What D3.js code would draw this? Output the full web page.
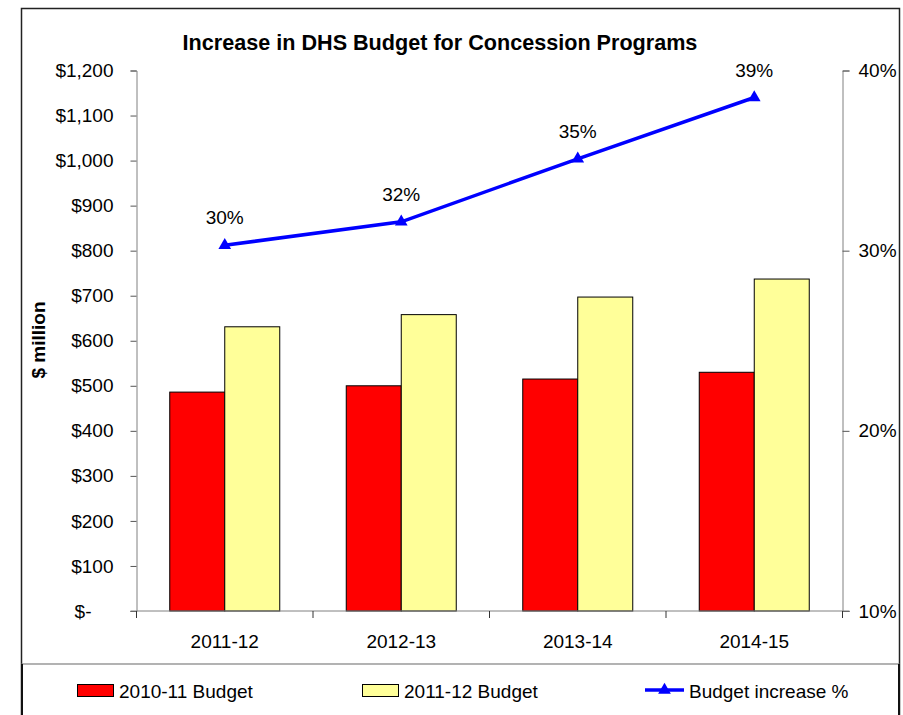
<!DOCTYPE html>
<html>
<head>
<meta charset="utf-8">
<script src="https://cdn.jsdelivr.net/npm/d3@7/dist/d3.min.js"></script>
<style>
  html, body { margin: 0; padding: 0; background: #fff; }
  svg { display: block; font-family: "Liberation Sans", Arial, sans-serif; }
</style>
</head>
<body>
<svg id="chart" width="903" height="715"></svg>
<script>
// ---- data ----
const categories = ["2011-12", "2012-13", "2013-14", "2014-15"];
const budget2010 = [486, 500, 515, 530];
const budget2011 = [631, 658, 697, 737];
const increasePct = [30.3, 31.6, 35.1, 38.5];
const increaseLabels = ["30%", "32%", "35%", "39%"];
const leftTicks = [0, 100, 200, 300, 400, 500, 600, 700, 800, 900, 1000, 1100, 1200];
const rightTicks = [10, 20, 30, 40];
const seriesNames = ["2010-11 Budget", "2011-12 Budget", "Budget increase %"];

(function () {
const svg = d3.select("#chart");
const pL = 136.5, pR = 842.5, pT = 70.5, pB = 611;

const x = d3.scaleBand().domain(categories).range([pL, pR]).padding(0);
const y = d3.scaleLinear().domain([0, 1200]).range([pB, pT]);
const y2 = d3.scaleLinear().domain([10, 40]).range([pB, pT]);

// outer frame
svg.append("rect").attr("x", 21.5).attr("y", 8.5).attr("width", 878).attr("height", 720)
  .attr("fill", "#fff").attr("stroke", "#222").attr("stroke-width", 1.5);

// title
svg.append("text").attr("x", 440).attr("y", 50).attr("text-anchor", "middle")
  .attr("font-weight", "bold").attr("font-size", "21.6px").attr("fill", "#000")
  .text("Increase in DHS Budget for Concession Programs");

// y title
svg.append("text").attr("transform", "translate(45,340) rotate(-90)")
  .attr("text-anchor", "middle").attr("font-weight", "bold").attr("font-size", "19px")
  .text("$ million");

// bars
const bw = 55;
const g = svg.append("g");
categories.forEach((c, i) => {
  const cx = x(c) + x.bandwidth() / 2;
  g.append("rect").attr("x", cx - bw).attr("y", y(budget2010[i]))
    .attr("width", bw).attr("height", y(0) - y(budget2010[i]))
    .attr("fill", "#FF0000").attr("stroke", "#000").attr("stroke-width", 1);
  g.append("rect").attr("x", cx).attr("y", y(budget2011[i]))
    .attr("width", bw).attr("height", y(0) - y(budget2011[i]))
    .attr("fill", "#FFFF99").attr("stroke", "#000").attr("stroke-width", 1);
});

// left axis
const fmt = d => d === 0 ? "$-" : "$" + d3.format(",")(d);
const la = svg.append("g").attr("transform", `translate(${pL},0)`)
  .call(d3.axisLeft(y).tickValues(leftTicks).tickFormat(fmt).tickSizeOuter(0).tickSize(6).tickPadding(17));
la.select(".domain").attr("stroke", "#808080");
la.selectAll(".tick line").attr("stroke", "#555");
la.selectAll(".tick text").attr("font-size", "19px").attr("fill", "#000")
  .attr("font-family", "Liberation Sans, Arial, sans-serif")
  .attr("dx", d => d === 0 ? -22 : 0);

// right axis
const ra = svg.append("g").attr("transform", `translate(${pR},0)`)
  .call(d3.axisRight(y2).tickValues(rightTicks).tickFormat(d => d + "%").tickSizeOuter(0).tickSize(7).tickPadding(9));
ra.select(".domain").attr("stroke", "#808080");
ra.selectAll(".tick line").attr("stroke", "#555");
ra.selectAll(".tick text").attr("font-size", "19px").attr("fill", "#000")
  .attr("font-family", "Liberation Sans, Arial, sans-serif");

// x axis
svg.append("line").attr("x1", pL - 6).attr("x2", pR + 7).attr("y1", pB).attr("y2", pB)
  .attr("stroke", "#808080").attr("stroke-width", 1);
const bounds = [pL].concat(categories.map(c => x(c) + x.bandwidth()));
svg.selectAll(".xtick").data(bounds).join("line")
  .attr("x1", d => d).attr("x2", d => d).attr("y1", pB).attr("y2", pB + 7)
  .attr("stroke", "#333");
svg.selectAll(".xlab").data(categories).join("text")
  .attr("x", d => x(d) + x.bandwidth() / 2).attr("y", 648)
  .attr("text-anchor", "middle").attr("font-size", "19px").text(d => d);

// line series
const pts = categories.map((c, i) => [x(c) + x.bandwidth() / 2, y2(increasePct[i])]);
svg.append("path").attr("d", d3.line()(pts)).attr("fill", "none")
  .attr("stroke", "#0000FF").attr("stroke-width", 3.5);
const tri = d3.symbol().type(d3.symbolTriangle).size(70);
svg.selectAll(".mk").data(pts).join("path")
  .attr("transform", d => `translate(${d[0]},${d[1]})`).attr("d", tri).attr("fill", "#0000FF");
svg.selectAll(".lbl").data(pts).join("text")
  .attr("x", d => d[0]).attr("y", d => d[1] - 21).attr("text-anchor", "middle")
  .attr("font-size", "19px").text((d, i) => increaseLabels[i]);

// legend
svg.append("rect").attr("x", 22).attr("y", 664).attr("width", 877).attr("height", 70)
  .attr("fill", "#fff").attr("stroke", "#808080").attr("stroke-width", 1.2);
svg.append("line").attr("x1", 22).attr("x2", 22).attr("y1", 664).attr("y2", 715).attr("stroke", "#111").attr("stroke-width", 2);
svg.append("line").attr("x1", 899).attr("x2", 899).attr("y1", 664).attr("y2", 715).attr("stroke", "#111").attr("stroke-width", 2);
const ly = 691;
svg.append("rect").attr("x", 77.5).attr("y", 684.5).attr("width", 36).attr("height", 12)
  .attr("fill", "#FF0000").attr("stroke", "#000");
svg.append("text").attr("x", 119).attr("y", ly + 7).attr("font-size", "19px").text(seriesNames[0]);
svg.append("rect").attr("x", 362.5).attr("y", 684.5).attr("width", 36).attr("height", 12)
  .attr("fill", "#FFFF99").attr("stroke", "#000");
svg.append("text").attr("x", 404).attr("y", ly + 7).attr("font-size", "19px").text(seriesNames[1]);
svg.append("line").attr("x1", 645).attr("x2", 684).attr("y1", ly - 1).attr("y2", ly - 1)
  .attr("stroke", "#0000FF").attr("stroke-width", 3.5);
svg.append("path").attr("transform", `translate(664.5,${ly - 1})`).attr("d", tri).attr("fill", "#0000FF");
svg.append("text").attr("x", 689).attr("y", ly + 7).attr("font-size", "19px").text(seriesNames[2]);
})();
</script>
</body>
</html>
